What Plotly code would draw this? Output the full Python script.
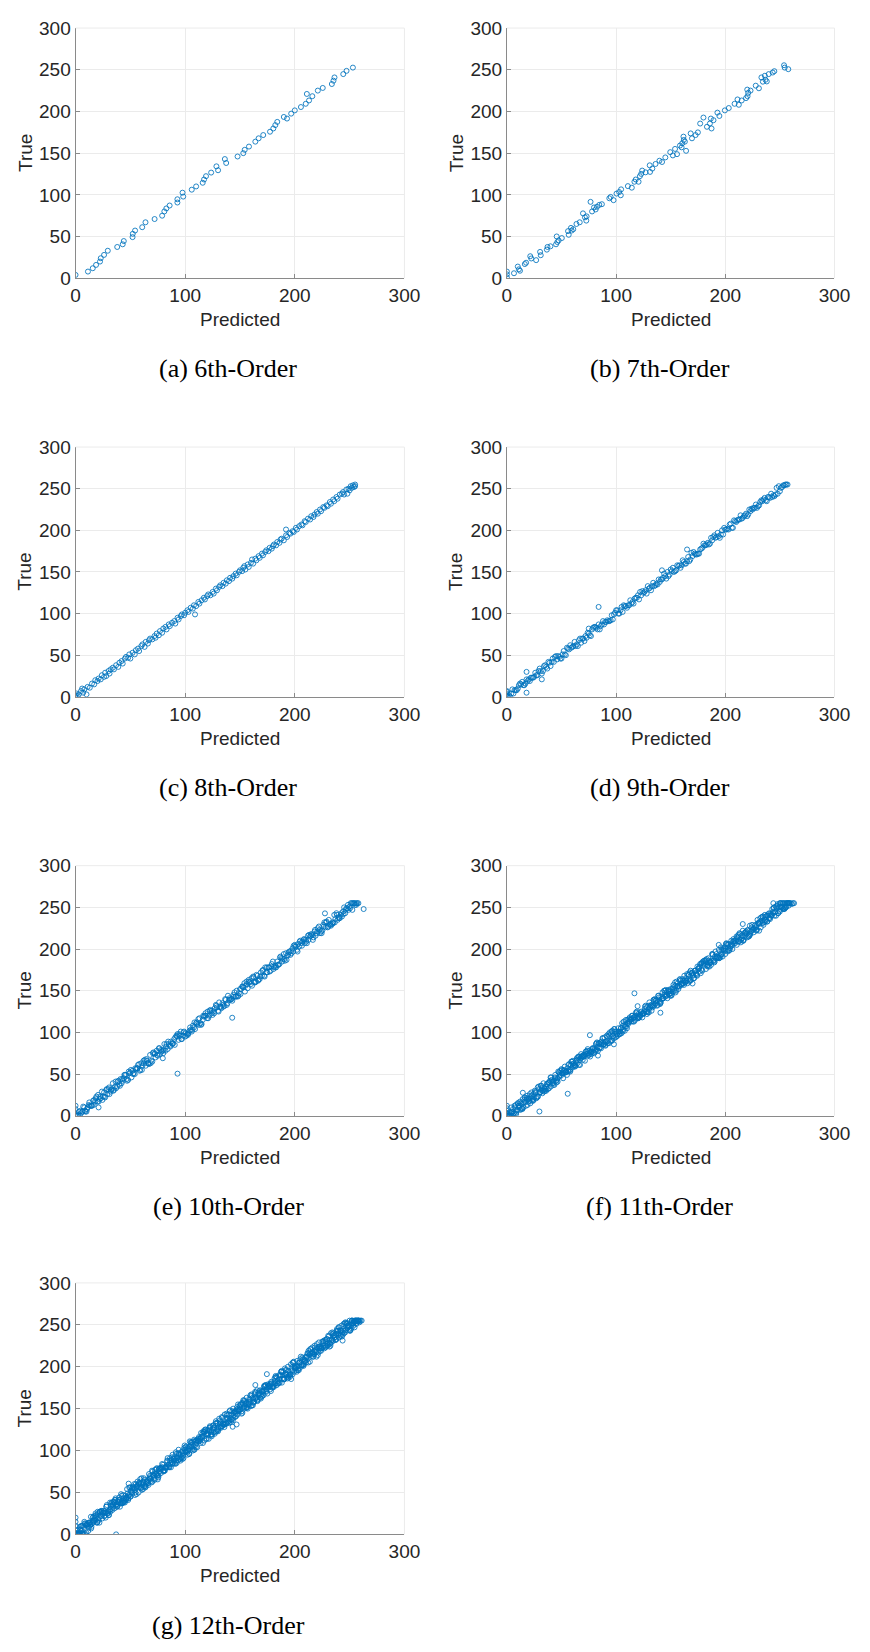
import plotly.graph_objects as go

# (predicted, true) pixel-intensity pairs for each model order
order6 = [(0,4),(11.3,8),(15.7,12),(18.7,16),(22.3,20),(23,24),(26,28),(29.4,33),(38,37.5),(43,40.7),
          (44,44.6),(52,49.3),(52.2,53.3),(54.3,57.2),(60.8,61.2),(63.8,67.1),(72.1,71),(79,75),(81,80.1),
          (82.8,83.7),(85.8,87.2),(92.9,90.8),(92.9,94.7),(98.2,97.9),(97.6,102.6),(106,106.2),(110,110.1),
          (116,114.5),(117.2,118.4),(119,122.4),(123.7,126.7),(130,129.5),(128.5,134.2),(137.4,138.2),
          (136.2,142.9),(147.8,146),(153,150),(154.3,154),(158.2,157.9),(164,163.8),(167,167.8),(171.2,171.7),
          (177.4,175.7),(180.4,179.6),(182.2,183.6),(184,187.5),(190,193.4),(192.9,191.5),(196.7,197.4),
          (200,201.3),(205.6,205.3),(210,209.2),(211,221),(213,213.2),(216,218.3),(221,225),(225.5,228.2),
          (233.8,232.9),(235.3,236.9),(236.2,240.8),(244.2,244.8),(247.2,248.7),(253,252.6)]

order7 = [(0,8),(0,4.7),(0,1),(6.5,6),(10,14),(11,10.7),(12,9),(16.4,17),(17.6,18.6),(21.4,26.4),(22.3,23.7),
          (26.8,21.7),(30.4,31.6),(31,27.6),(36.6,34.3),(37.2,37.5),(39.9,38.3),(45,40.7),(45.6,50.1),(46.2,43.4),
          (47.4,45.4),(50.3,48.2),(56,56.5),(56.6,52.1),(58.7,60.4),(59.3,57.2),(60.8,58.8),(63.7,65.1),
          (66.7,67.1),(69.7,77.8),(71.5,73),(72.7,69.1),(73,74.2),(76.6,91.6),(78,80.1),(79.8,84.9),(81.3,82.5),
          (82.5,85.7),(84.6,88),(87,88.8),(93.8,95.9),(95,97.5),(97.7,93.6),(100.4,101.5),(102.8,103.4),
          (104.6,106.6),(104.3,99.5),(110.8,110.5),(114.4,108.6),(116.8,115.7),(118,118.4),(120.6,115.7),
          (121.8,122.4),(123,125.1),(123.9,129.1),(127,127),(130.8,135.4),(131.1,127.5),(133.2,131.5),(136.1,137),
          (139.7,140.9),(142.1,139.4),(145.1,144.9),(149.6,151.2),(152,147.3),(154,155.1),(155.8,148.8),
          (158.5,159.1),(160,157),(160.6,161.9),(161.7,169.8),(162,165.8),(163,163.8),(164.1,152.8),(168.3,173.7),
          (169.5,167.8),(172.8,171.7),(174.9,174.9),(177,185.5),(180,192.7),(183.2,181.6),(185.9,185.5),
          (186.8,191.5),(187.4,179.6),(189.2,189.5),(192.8,198.6),(194.6,194.6),(199.6,201.3),(203.2,204.1),
          (208.5,209.2),(211.2,214.4),(212.4,208),(215,213.2),(219,216),(220.1,226.2),(220.4,218.3),(221,222.3),
          (223.1,225),(227.9,230.9),(230.8,227.8),(233.1,240.8),(234.4,235.7),(236.2,242.8),(236.8,238),
          (238,236),(239.8,244.8),(243.4,246.7),(244.9,248.3),(253.8,255.4),(254.4,252.6),(257.7,250.7)]

order8 = [(0,0),(0,2),(1,4),(2,1),(3,3),(5,7),(6,10),(7,5),(8,9),(10,3),(11,12),(13,11),(15,16),(17,15),(18,20),
          (20,19),(21,22),(23,21),(24,26),(26,24),(27,29),(28,25),(30,31),(31,28),(32,33),(34,35),(35,33),(37,38),
          (39,36),(40,41),(42,43),(43,40),(45,46),(46,48),(48,47),(49,51),(50,46),(52,53),(54,51),(55,56),(57,58),
          (58,55),(60,61),(61,63),(63,60),(64,66),(66,64),(67,68),(68,70),(70,69),(72,73),(73,71),(74,76),(76,74),
          (77,79),(79,77),(80,82),(82,84),(83,81),(85,87),(86,85),(88,89),(90,91),(91,88),(93,95),(94,93),(96,97),
          (97,99),(99,98),(100,101),(102,104),(103,102),(105,107),(107,106),(108,110),(109,99),(110,109),(112,114),
          (113,112),(115,116),(117,119),(118,117),(120,121),(121,123),(123,122),(125,126),(126,124),(128,130),
          (129,128),(131,132),(132,134),(134,133),(135,137),(137,136),(138,140),(140,139),(141,143),(143,142),
          (144,145),(146,148),(147,146),(149,150),(150,152),(152,151),(153,155),(154,157),(155,153),(157,159),
          (158,156),(160,161),(161,165),(162,160),(164,166),(165,164),(167,169),(168,167),(170,172),(171,170),
          (173,174),(174,176),(176,175),(177,179),(179,178),(180,181),(181,183),(183,182),(184,186),(186,185),
          (187,189),(188,190),(190,188),(192,201),(192,194),(193,192),(195,197),(196,196),(198,199),(199,198),
          (201,203),(202,201),(204,205),(206,207),(207,206),(209,211),(210,210),(212,214),(214,213),(215,217),
          (217,216),(218,219),(220,222),(221,220),(223,225),(224,223),(226,228),(227,227),(229,230),(230,229),
          (232,234),(233,232),(235,237),(236,235),(238,240),(239,238),(241,243),(243,244),(244,246),(245,243),
          (247,249),(248,244),(249,250),(250,248),(251,253),(252,251),(253,254),(254,252),(255,255),(255,253)]

order9 = [(0,0),(1,0),(2,2),(3,0),(4,4),(5,9),(6,4),(7,8),(8,8),(9,8),(10,10),(11,14),(12,16),(13,15),(14,18),
          (15,14),(16,14),(17,16),(18,21),(19,19),(20,21),(21,19),(22,23),(23,23),(24,23),(25,24),(26,29),(27,26),
          (28,26),(29,31),(30,34),(31,31),(32,28),(33,31),(34,37),(35,38),(36,36),(37,34),(38,42),(39,41),(40,37),
          (41,42),(42,46),(43,42),(44,48),(45,49),(46,45),(47,49),(48,48),(49,46),(50,46),(51,51),(52,55),(53,51),
          (54,50),(55,59),(56,58),(57,57),(58,62),(59,59),(60,60),(61,61),(62,66),(63,61),(64,63),(65,61),(66,68),
          (67,70),(68,65),(69,70),(70,70),(71,67),(72,73),(73,71),(74,77),(75,76),(76,74),(77,73),(78,81),(79,83),
          (80,84),(81,84),(82,83),(83,81),(84,87),(85,81),(86,85),(87,87),(88,91),(89,87),(90,90),(91,90),(92,92),
          (93,91),(94,91),(95,92),(96,98),(97,93),(98,99),(99,101),(100,104),(101,104),(102,100),(103,100),
          (104,104),(105,108),(106,102),(107,110),(108,109),(109,109),(110,107),(111,110),(112,110),(113,116),
          (114,112),(115,114),(116,112),(117,118),(118,119),(119,119),(120,122),(121,117),(122,126),(123,122),
          (124,127),(125,125),(126,126),(127,128),(128,124),(129,133),(130,130),(131,131),(132,128),(133,133),
          (134,137),(135,133),(136,134),(137,136),(138,135),(139,141),(140,138),(141,141),(142,141),(143,143),
          (144,148),(145,145),(146,142),(147,150),(148,145),(149,147),(150,153),(151,151),(152,155),(153,150),
          (154,151),(155,152),(156,158),(157,157),(158,158),(159,155),(160,158),(161,164),(162,162),(163,160),
          (164,160),(165,163),(166,168),(167,163),(168,165),(169,173),(170,169),(171,174),(172,172),(173,171),
          (174,171),(175,172),(176,172),(177,177),(178,178),(179,179),(180,184),(181,182),(182,182),(183,183),
          (184,185),(185,183),(186,184),(187,191),(188,188),(189,192),(190,194),(191,191),(192,192),(193,197),
          (194,193),(195,191),(196,195),(197,200),(198,195),(199,203),(200,201),(201,201),(202,202),(203,201),
          (204,207),(205,208),(206,203),(207,203),(208,212),(209,211),(210,210),(211,212),(212,213),(213,213),
          (214,218),(215,214),(216,215),(217,217),(218,218),(219,220),(220,217),(221,219),(222,225),(223,223),
          (224,226),(225,225),(226,227),(227,227),(228,231),(229,227),(230,229),(231,230),(232,234),(233,236),
          (234,235),(235,237),(236,239),(237,236),(238,235),(239,240),(240,240),(241,239),(242,244),(243,240),
          (244,242),(245,241),(246,243),(247,251),(248,244),(249,253),(250,247),(251,251),(252,252),(253,254),
          (254,254),(255,255),(256,255),(257,255),
          (0,2),(0,4),(0,6),(0,7),(18,30),(18,5),(32,21),(75,82),(84,108),(142,152),(165,177)]

order10 = [(0,0),(1,0),(2,1),(3,5),(4,0),(5,3),(6,5),(7,11),(8,10),(9,5),(10,5),(11,10),(12,13),(13,12),(14,12),
           (15,12),(16,18),(17,19),(18,17),(19,23),(20,17),(21,17),(22,20),(23,21),(24,29),(25,23),(26,28),(27,22),
           (28,31),(29,26),(30,32),(31,26),(32,29),(33,32),(34,39),(35,31),(36,35),(37,33),(38,35),(39,42),(40,38),
           (41,44),(42,39),(43,42),(44,45),(45,49),(46,49),(47,42),(48,43),(49,51),(50,52),(51,46),(52,54),(53,51),
           (54,50),(55,56),(56,57),(57,61),(58,62),(59,55),(60,63),(61,60),(62,66),(63,67),(64,60),(65,66),(66,63),
           (67,62),(68,73),(69,66),(70,65),(71,76),(72,74),(73,70),(74,78),(75,72),(76,81),(77,74),(78,79),(79,78),
           (80,75),(81,86),(82,78),(83,86),(84,80),(85,86),(86,84),(87,89),(88,87),(89,87),(90,92),(91,94),(92,96),
           (93,98),(94,91),(95,96),(96,101),(97,92),(98,96),(99,101),(100,95),(101,96),(102,98),(103,99),(104,102),
           (105,103),(106,101),(107,108),(108,106),(109,104),(110,111),(111,110),(112,116),(113,117),(114,111),
           (115,110),(116,115),(117,119),(118,120),(119,120),(120,117),(121,117),(122,120),(123,127),(124,123),
           (125,121),(126,125),(127,129),(128,133),(129,130),(130,126),(131,136),(132,131),(133,129),(134,135),
           (135,131),(136,132),(137,139),(138,133),(139,144),(140,139),(141,139),(142,140),(143,138),(144,145),
           (145,148),(146,143),(147,150),(148,143),(149,147),(150,152),(151,152),(152,155),(153,154),(154,159),
           (155,156),(156,161),(157,153),(158,163),(159,160),(160,158),(161,156),(162,167),(163,160),(164,160),
           (165,169),(166,168),(167,163),(168,164),(169,172),(170,168),(171,175),(172,168),(173,178),(174,172),
           (175,172),(176,178),(177,173),(178,174),(179,182),(180,185),(181,179),(182,178),(183,178),(184,185),
           (185,181),(186,182),(187,191),(188,189),(189,188),(190,194),(191,186),(192,195),(193,192),(194,193),
           (195,197),(196,193),(197,195),(198,201),(199,204),(200,205),(201,203),(202,199),(203,206),(204,203),
           (205,210),(206,207),(207,209),(208,211),(209,207),(210,211),(211,207),(212,216),(213,217),(214,215),
           (215,218),(216,217),(217,214),(218,221),(219,216),(220,219),(221,225),(222,227),(223,219),(224,221),
           (225,222),(226,229),(227,232),(228,226),(229,233),(230,226),(231,235),(232,230),(233,228),(234,230),
           (235,231),(236,241),(237,236),(238,243),(239,235),(240,238),(241,237),(242,241),(243,239),(244,245),
           (245,250),(246,243),(247,249),(248,249),(249,247),(250,251),(251,255),(252,255),(253,255),(254,255),
           (255,253),(256,253),(257,255),
           (0.5,2),(2.5,0),(4.5,6),(6.5,5),(8.5,6),(10.5,8),(12.5,16),(14.5,12),(16.5,13),(18.5,21),(20.5,25),
           (22.5,23),(24.5,19),(26.5,23),(28.5,32),(30.5,34),(32.5,31),(34.5,30),(36.5,41),(38.5,41),(40.5,36),
           (42.5,44),(44.5,49),(46.5,44),(48.5,53),(50.5,55),(52.5,50),(54.5,57),(56.5,57),(58.5,54),(60.5,55),
           (62.5,63),(64.5,68),(66.5,63),(68.5,63),(70.5,75),(72.5,75),(74.5,73),(76.5,81),(78.5,77),(80.5,79),
           (82.5,83),(84.5,89),(86.5,83),(88.5,86),(90.5,85),(92.5,95),(94.5,98),(96.5,92),(98.5,100),(100.5,99),
           (102.5,97),(104.5,106),(106.5,103),(108.5,112),(110.5,112),(112.5,109),(114.5,109),(116.5,120),
           (118.5,123),(120.5,125),(122.5,126),(124.5,126),(126.5,123),(128.5,132),(130.5,125),(132.5,130),
           (134.5,133),(136.5,140),(138.5,135),(140.5,141),(142.5,140),(144.5,143),(146.5,143),(148.5,144),
           (150.5,146),(152.5,155),(154.5,149),(156.5,158),(158.5,161),(160.5,165),(162.5,166),(164.5,161),
           (166.5,162),(168.5,167),(170.5,174),(172.5,167),(174.5,178),(176.5,178),(178.5,179),(180.5,176),
           (182.5,180),(184.5,181),(186.5,190),(188.5,185),(190.5,188),(192.5,187),(194.5,196),(196.5,198),
           (198.5,197),(200.5,203),(202.5,197),(204.5,209),(206.5,204),(208.5,212),(210.5,209),(212.5,211),
           (214.5,216),(216.5,211),(218.5,223),(220.5,221),(222.5,223),(224.5,219),(226.5,227),(228.5,232),
           (230.5,227),(232.5,229),(234.5,232),(236.5,232),(238.5,241),(240.5,237),(242.5,243),(244.5,242),
           (246.5,247),(248.5,253),(250.5,249),(252.5,247),(254.5,255),
           (0,12),(0,8),(21,10),(79.6,69),(93,50.5),(142.9,117.6),(227.5,242.8),(262.8,248),(258,255),(256,255)]

order11 = [(0,0),(1,2),(2,0),(3,4),(4,10),(5,4),(6,0),(7,12),(8,3),(9,6),(10,15),(11,10),(12,17),(13,8),(14,9),
           (15,10),(16,19),(17,16),(18,19),(19,13),(20,17),(21,26),(22,21),(23,18),(24,18),(25,22),(26,29),(27,21),
           (28,23),(29,35),(30,28),(31,36),(32,33),(33,30),(34,29),(35,30),(36,30),(37,38),(38,39),(39,40),(40,46),
           (41,43),(42,41),(43,42),(44,46),(45,42),(46,43),(47,53),(48,47),(49,54),(50,56),(51,52),(52,51),(53,59),
           (54,52),(55,49),(56,54),(57,62),(58,53),(59,65),(60,62),(61,60),(62,61),(63,60),(64,69),(65,70),(66,61),
           (67,61),(68,74),(69,72),(70,71),(71,73),(72,74),(73,74),(74,80),(75,73),(76,74),(77,76),(78,77),(79,81),
           (80,75),(81,78),(82,87),(83,82),(84,87),(85,86),(86,88),(87,86),(88,93),(89,86),(90,88),(91,89),(92,95),
           (93,98),(94,96),(95,98),(96,101),(97,95),(98,93),(99,101),(100,101),(101,98),(102,105),(103,98),
           (104,101),(105,99),(106,101),(107,113),(108,102),(109,115),(110,105),(111,110),(112,113),(113,115),
           (114,113),(115,120),(116,117),(117,119),(118,120),(119,125),(120,117),(121,119),(122,121),(123,125),
           (124,118),(125,123),(126,125),(127,132),(128,130),(129,124),(130,124),(131,130),(132,133),(133,132),
           (134,132),(135,132),(136,138),(137,139),(138,137),(139,144),(140,137),(141,136),(142,140),(143,141),
           (144,150),(145,143),(146,148),(147,141),(148,151),(149,146),(150,152),(151,145),(152,149),(153,152),
           (154,160),(155,150),(156,155),(157,152),(158,155),(159,162),(160,158),(161,164),(162,159),(163,162),
           (164,165),(165,170),(166,169),(167,161),(168,162),(169,171),(170,172),(171,165),(172,174),(173,171),
           (174,169),(175,176),(176,177),(177,182),(178,183),(179,174),(180,183),(181,180),(182,187),(183,188),
           (184,179),(185,186),(186,183),(187,181),(188,194),(189,186),(190,184),(191,197),(192,194),(193,190),
           (194,199),(195,192),(196,202),(197,194),(198,199),(199,198),(200,194),(201,207),(202,197),(203,206),
           (204,199),(205,206),(206,204),(207,209),(208,207),(209,207),(210,212),(211,214),(212,217),(213,219),
           (214,211),(215,216),(216,222),(217,211),(218,216),(219,221),(220,214),(221,215),(222,217),(223,218),
           (224,222),(225,223),(226,220),(227,228),(228,226),(229,223),(230,231),(231,230),(232,237),(233,238),
           (234,231),(235,229),(236,235),(237,239),(238,240),(239,240),(240,237),(241,236),(242,240),(243,248),
           (244,243),(245,240),(246,245),(247,249),(248,254),(249,250),(250,245),(251,255),(252,251),(253,248),
           (254,255),(255,250),(256,251),(257,255),(258,252),(259,255),
           (0.5,0),(1.5,0),(2.5,0),(3.5,0),(4.5,5),(5.5,8),(6.5,3),(7.5,10),(8.5,2),(9.5,7),(10.5,12),(11.5,12),
           (12.5,15),(13.5,14),(14.5,20),(15.5,16),(16.5,22),(17.5,12),(18.5,24),(19.5,20),(20.5,18),(21.5,15),
           (22.5,28),(23.5,20),(24.5,19),(25.5,30),(26.5,28),(27.5,22),(28.5,23),(29.5,32),(30.5,28),(31.5,36),
           (32.5,27),(33.5,39),(34.5,32),(35.5,32),(36.5,38),(37.5,32),(38.5,33),(39.5,42),(40.5,46),(41.5,39),
           (42.5,37),(43.5,37),(44.5,45),(45.5,40),(46.5,41),(47.5,52),(48.5,49),(49.5,48),(50.5,55),(51.5,45),
           (52.5,55),(53.5,52),(54.5,53),(55.5,57),(56.5,53),(57.5,55),(58.5,61),(59.5,65),(60.5,66),(61.5,63),
           (62.5,59),(63.5,66),(64.5,63),(65.5,71),(66.5,67),(67.5,69),(68.5,71),(69.5,67),(70.5,71),(71.5,66),
           (72.5,77),(73.5,78),(74.5,75),(75.5,78),(76.5,77),(77.5,74),(78.5,81),(79.5,76),(80.5,79),(81.5,86),
           (82.5,88),(83.5,78),(84.5,81),(85.5,82),(86.5,89),(87.5,93),(88.5,86),(89.5,94),(90.5,85),(91.5,96),
           (92.5,90),(93.5,87),(94.5,89),(95.5,90),(96.5,102),(97.5,96),(98.5,104),(99.5,94),(100.5,98),
           (101.5,96),(102.5,101),(103.5,98),(104.5,105),(105.5,111),(106.5,103),(107.5,109),(108.5,109),
           (109.5,107),(110.5,111),(111.5,116),(112.5,118),(113.5,116),(114.5,120),(115.5,113),(116.5,113),
           (117.5,115),(118.5,123),(119.5,118),(120.5,122),(121.5,118),(122.5,124),(123.5,122),(124.5,122),
           (125.5,123),(126.5,131),(127.5,125),(128.5,125),(129.5,132),(130.5,136),(131.5,132),(132.5,126),
           (133.5,130),(134.5,139),(135.5,140),(136.5,135),(137.5,132),(138.5,144),(139.5,142),(140.5,135),
           (141.5,143),(142.5,148),(143.5,141),(144.5,150),(145.5,151),(146.5,144),(147.5,150),(148.5,149),
           (149.5,144),(150.5,144),(151.5,152),(152.5,157),(153.5,150),(154.5,148),(155.5,161),(156.5,159),
           (157.5,156),(158.5,164),(159.5,158),(160.5,159),(161.5,162),(162.5,168),(163.5,160),(164.5,162),
           (165.5,159),(166.5,169),(167.5,172),(168.5,163),(169.5,171),(170.5,169),(171.5,165),(172.5,174),
           (173.5,170),(174.5,179),(175.5,177),(176.5,173),(177.5,171),(178.5,183),(179.5,185),(180.5,186),
           (181.5,186),(182.5,184),(183.5,180),(184.5,189),(185.5,179),(186.5,184),(187.5,186),(188.5,193),
           (189.5,186),(190.5,191),(191.5,189),(192.5,191),(193.5,190),(194.5,189),(195.5,190),(196.5,199),
           (197.5,191),(198.5,200),(199.5,202),(200.5,206),(201.5,206),(202.5,199),(203.5,198),(204.5,203),
           (205.5,210),(206.5,200),(207.5,212),(208.5,210),(209.5,210),(210.5,205),(211.5,209),(212.5,209),
           (213.5,218),(214.5,211),(215.5,213),(216.5,210),(217.5,219),(218.5,220),(219.5,218),(220.5,223),
           (221.5,215),(222.5,228),(223.5,221),(224.5,229),(225.5,224),(226.5,225),(227.5,229),(228.5,222),
           (229.5,235),(230.5,231),(231.5,232),(232.5,226),(233.5,234),(234.5,239),(235.5,232),(236.5,233),
           (237.5,235),(238.5,233),(239.5,242),(240.5,237),(241.5,242),(242.5,240),(243.5,244),(244.5,250),
           (245.5,244),(246.5,240),(247.5,252),(248.5,243),(249.5,246),(250.5,255),(251.5,250),(252.5,255),
           (253.5,248),(254.5,249),(255.5,250),(256.5,255),(257.5,255),(258.5,255),
           (0.25,2),(2.25,1),(4.25,3),(6.25,3),(8.25,13),(10.25,15),(12.25,7),(14.25,8),(16.25,22),(18.25,21),
           (20.25,21),(22.25,24),(24.25,26),(26.25,27),(28.25,34),(30.25,28),(32.25,30),(34.25,33),(36.25,35),
           (38.25,40),(40.25,35),(42.25,39),(44.25,49),(46.25,45),(48.25,51),(50.25,51),(52.25,54),(54.25,53),
           (56.25,61),(58.25,55),(60.25,58),(62.25,60),(64.25,67),(66.25,71),(68.25,70),(70.25,73),(72.25,77),
           (74.25,72),(76.25,71),(78.25,80),(80.25,81),(82.25,79),(84.25,87),(86.25,81),(88.25,85),(90.25,84),
           (92.25,87),(94.25,100),(96.25,90),(98.25,104),(100.25,95),(102.25,101),(104.25,105),(106.25,108),
           (108.25,107),(110.25,115),(112.25,113),(114.25,116),(116.25,118),(118.25,124),(120.25,117),
           (122.25,120),(124.25,123),(126.25,128),(128.25,122),(130.25,128),(132.25,131),(134.25,139),
           (136.25,138),(138.25,133),(140.25,134),(142.25,141),(144.25,145),(146.25,145),(148.25,146),
           (150.25,147),(152.25,154),(154.25,156),(156.25,155),(158.25,163),(160.25,157),(162.25,157),
           (164.25,162),(166.25,164),(168.25,174),(170.25,168),(172.25,174),(174.25,168),(176.25,179),
           (178.25,175),(180.25,182),(182.25,176),(184.25,181),(186.25,185),(188.25,194),(190.25,185),
           (192.25,191),(194.25,189),(196.25,193),(198.25,201),(200.25,198),(202.25,205),(204.25,201),
           (206.25,205),(208.25,209),(210.25,215),(212.25,215),(214.25,208),(216.25,210),(218.25,220),
           (220.25,222),(222.25,216),(224.25,226),(226.25,224),(228.25,223),(230.25,231),(232.25,233),
           (234.25,239),(236.25,241),(238.25,233),(240.25,243),(242.25,241),(244.25,249),(246.25,251),
           (248.25,243),(250.25,251),(252.25,249),(254.25,248),(256.25,255),(258.25,255),
           (0,3),(0,6),(0,9),(0,12),(116.8,146.9),(140.6,123.6),(76,96.7),(83.4,72.2),(55.7,26.4),(29.8,5.1),
           (14.6,27.6),(98,85.7),(119.7,131.5),(170,158.7),(244,255),(194,205),(216,230),(231,222),
           (250,255),(253,255),(255,255),(260,255),(261,254),(262,255),(263,255)]

order12 = [(0,2),(1,0),(2,1),(3,0),(4,9),(5,10),(6,1),(7,0),(8,15),(9,13),(10,11),(11,13),(12,14),(13,14),(14,21),
           (15,13),(16,14),(17,16),(18,17),(19,21),(20,15),(21,17),(22,27),(23,22),(24,28),(25,26),(26,28),(27,26),
           (28,33),(29,25),(30,28),(31,29),(32,36),(33,38),(34,36),(35,39),(36,41),(37,35),(38,33),(39,41),(40,41),
           (41,37),(42,46),(43,38),(44,40),(45,38),(46,41),(47,54),(48,41),(49,56),(50,45),(51,50),(52,53),(53,55),
           (54,53),(55,60),(56,57),(57,59),(58,60),(59,66),(60,56),(61,59),(62,61),(63,65),(64,57),(65,63),(66,65),
           (67,72),(68,70),(69,64),(70,63),(71,70),(72,73),(73,72),(74,72),(75,71),(76,78),(77,79),(78,77),(79,84),
           (80,76),(81,76),(82,80),(83,81),(84,91),(85,83),(86,88),(87,80),(88,92),(89,85),(90,92),(91,84),(92,88),
           (93,92),(94,101),(95,90),(96,95),(97,92),(98,94),(99,103),(100,98),(101,105),(102,98),(103,102),
           (104,105),(105,110),(106,110),(107,100),(108,101),(109,111),(110,112),(111,104),(112,114),(113,111),
           (114,109),(115,116),(116,117),(117,122),(118,123),(119,114),(120,124),(121,120),(122,127),(123,128),
           (124,119),(125,126),(126,122),(127,120),(128,135),(129,125),(130,123),(131,138),(132,134),(133,129),
           (134,139),(135,131),(136,143),(137,133),(138,139),(139,138),(140,133),(141,148),(142,137),(143,147),
           (144,139),(145,146),(146,144),(147,149),(148,147),(149,147),(150,152),(151,155),(152,157),(153,160),
           (154,150),(155,156),(156,163),(157,150),(158,156),(159,161),(160,153),(161,154),(162,157),(163,158),
           (164,162),(165,163),(166,159),(167,168),(168,166),(169,162),(170,171),(171,170),(172,177),(173,178),
           (174,170),(175,168),(176,175),(177,179),(178,180),(179,180),(180,176),(181,176),(182,180),(183,188),
           (184,183),(185,180),(186,185),(187,189),(188,195),(189,190),(190,185),(191,198),(192,191),(193,188),
           (194,195),(195,190),(196,191),(197,199),(198,191),(199,206),(200,199),(201,199),(202,200),(203,196),
           (204,205),(205,209),(206,202),(207,211),(208,201),(209,207),(210,212),(211,212),(212,216),(213,214),
           (214,221),(215,216),(216,223),(217,212),(218,225),(219,220),(220,218),(221,214),(222,229),(223,219),
           (224,219),(225,230),(226,228),(227,222),(228,223),(229,233),(230,228),(231,236),(232,227),(233,240),
           (234,232),(235,231),(236,238),(237,232),(238,233),(239,243),(240,247),(241,239),(242,237),(243,236),
           (244,245),(245,240),(246,241),(247,252),(248,249),(249,248),(250,255),(251,244),(252,255),(253,252),
           (254,253),(255,255),(256,252),(257,255),(258,255),(259,255),
           (0.5,0),(1.5,5),(2.5,0),(3.5,2),(4.5,5),(5.5,10),(6.5,10),(7.5,0),(8.5,1),(9.5,11),(10.5,12),(11.5,4),
           (12.5,14),(13.5,11),(14.5,9),(15.5,16),(16.5,17),(17.5,22),(18.5,23),(19.5,14),(20.5,24),(21.5,20),
           (22.5,27),(23.5,28),(24.5,19),(25.5,26),(26.5,22),(27.5,20),(28.5,35),(29.5,25),(30.5,23),(31.5,38),
           (32.5,34),(33.5,29),(34.5,39),(35.5,31),(36.5,43),(37.5,33),(38.5,39),(39.5,38),(40.5,33),(41.5,48),
           (42.5,37),(43.5,47),(44.5,39),(45.5,46),(46.5,44),(47.5,49),(48.5,47),(49.5,47),(50.5,52),(51.5,55),
           (52.5,57),(53.5,60),(54.5,50),(55.5,56),(56.5,63),(57.5,50),(58.5,56),(59.5,61),(60.5,53),(61.5,54),
           (62.5,57),(63.5,58),(64.5,62),(65.5,63),(66.5,59),(67.5,68),(68.5,66),(69.5,62),(70.5,71),(71.5,70),
           (72.5,77),(73.5,78),(74.5,70),(75.5,68),(76.5,75),(77.5,79),(78.5,80),(79.5,80),(80.5,76),(81.5,76),
           (82.5,80),(83.5,88),(84.5,83),(85.5,80),(86.5,85),(87.5,89),(88.5,95),(89.5,90),(90.5,85),(91.5,98),
           (92.5,91),(93.5,88),(94.5,95),(95.5,90),(96.5,91),(97.5,99),(98.5,91),(99.5,106),(100.5,99),(101.5,99),
           (102.5,100),(103.5,96),(104.5,105),(105.5,109),(106.5,102),(107.5,111),(108.5,101),(109.5,107),
           (110.5,112),(111.5,112),(112.5,116),(113.5,114),(114.5,121),(115.5,116),(116.5,123),(117.5,112),
           (118.5,125),(119.5,120),(120.5,118),(121.5,114),(122.5,129),(123.5,119),(124.5,119),(125.5,130),
           (126.5,128),(127.5,122),(128.5,123),(129.5,133),(130.5,128),(131.5,136),(132.5,127),(133.5,140),
           (134.5,132),(135.5,131),(136.5,138),(137.5,132),(138.5,133),(139.5,143),(140.5,147),(141.5,139),
           (142.5,137),(143.5,136),(144.5,145),(145.5,140),(146.5,141),(147.5,152),(148.5,149),(149.5,148),
           (150.5,155),(151.5,144),(152.5,156),(153.5,152),(154.5,153),(155.5,157),(156.5,152),(157.5,155),
           (158.5,162),(159.5,166),(160.5,167),(161.5,163),(162.5,158),(163.5,167),(164.5,163),(165.5,172),
           (166.5,167),(167.5,169),(168.5,172),(169.5,167),(170.5,171),(171.5,166),(172.5,177),(173.5,178),
           (174.5,175),(175.5,179),(176.5,177),(177.5,173),(178.5,182),(179.5,175),(180.5,179),(181.5,186),
           (182.5,189),(183.5,178),(184.5,180),(185.5,181),(186.5,190),(187.5,194),(188.5,186),(189.5,194),
           (190.5,185),(191.5,196),(192.5,190),(193.5,186),(194.5,189),(195.5,190),(196.5,203),(197.5,196),
           (198.5,205),(199.5,194),(200.5,198),(201.5,196),(202.5,201),(203.5,198),(204.5,205),(205.5,212),
           (206.5,202),(207.5,209),(208.5,209),(209.5,207),(210.5,211),(211.5,216),(212.5,219),(213.5,217),
           (214.5,221),(215.5,213),(216.5,212),(217.5,215),(218.5,223),(219.5,218),(220.5,222),(221.5,217),
           (222.5,224),(223.5,222),(224.5,222),(225.5,223),(226.5,231),(227.5,225),(228.5,224),(229.5,233),
           (230.5,237),(231.5,232),(232.5,225),(233.5,229),(234.5,239),(235.5,240),(236.5,235),(237.5,232),
           (238.5,245),(239.5,243),(240.5,235),(241.5,243),(242.5,249),(243.5,241),(244.5,251),(245.5,252),
           (246.5,244),(247.5,251),(248.5,249),(249.5,244),(250.5,243),(251.5,252),(252.5,255),(253.5,249),
           (254.5,247),(255.5,255),(256.5,255),(257.5,255),
           (0.2,0),(2.2,0),(4.2,6),(6.2,2),(8.2,13),(10.2,12),(12.2,8),(14.2,7),(16.2,21),(18.2,25),(20.2,27),
           (22.2,27),(24.2,26),(26.2,22),(28.2,33),(30.2,23),(32.2,30),(34.2,33),(36.2,41),(38.2,34),(40.2,41),
           (42.2,40),(44.2,43),(46.2,42),(48.2,43),(50.2,45),(52.2,56),(54.2,47),(56.2,58),(58.2,62),(60.2,67),
           (62.2,67),(64.2,60),(66.2,61),(68.2,67),(70.2,75),(72.2,65),(74.2,79),(76.2,78),(78.2,79),(80.2,75),
           (82.2,80),(84.2,80),(86.2,91),(88.2,84),(90.2,88),(92.2,85),(94.2,96),(96.2,98),(98.2,97),(100.2,104),
           (102.2,95),(104.2,111),(106.2,104),(108.2,113),(110.2,109),(112.2,111),(114.2,116),(116.2,109),
           (118.2,125),(120.2,121),(122.2,123),(124.2,117),(126.2,127),(128.2,133),(130.2,126),(132.2,128),
           (134.2,132),(136.2,131),(138.2,142),(140.2,136),(142.2,143),(144.2,142),(146.2,147),(148.2,155),
           (150.2,149),(152.2,145),(154.2,159),(156.2,151),(158.2,154),(160.2,165),(162.2,161),(164.2,169),
           (166.2,161),(168.2,163),(170.2,165),(172.2,176),(174.2,173),(176.2,177),(178.2,171),(180.2,176),
           (182.2,187),(184.2,183),(186.2,181),(188.2,181),(190.2,186),(192.2,196),(194.2,187),(196.2,191),
           (198.2,205),(200.2,198),(202.2,207),(204.2,205),(206.2,202),(208.2,203),(210.2,205),(212.2,205),
           (214.2,215),(216.2,217),(218.2,219),(220.2,227),(222.2,224),(224.2,223),(226.2,225),(228.2,230),
           (230.2,226),(232.2,228),(234.2,241),(236.2,235),(238.2,243),(240.2,247),(242.2,243),(244.2,243),
           (246.2,253),(248.2,246),(250.2,243),(252.2,250),(254.2,255),(256.2,251),(258.2,255),
           (1.75,0),(3.75,1),(5.75,4),(7.75,9),(9.75,2),(11.75,9),(13.75,12),(15.75,20),(17.75,19),(19.75,14),
           (21.75,14),(23.75,22),(25.75,26),(27.75,26),(29.75,27),(31.75,27),(33.75,35),(35.75,37),(37.75,36),
           (39.75,44),(41.75,37),(43.75,38),(45.75,43),(47.75,45),(49.75,56),(51.75,49),(53.75,55),(55.75,48),
           (57.75,61),(59.75,55),(61.75,63),(63.75,56),(65.75,61),(67.75,66),(69.75,76),(71.75,66),(73.75,72),
           (75.75,70),(77.75,73),(79.75,83),(81.75,79),(83.75,87),(85.75,81),(87.75,86),(89.75,90),(91.75,96),
           (93.75,97),(95.75,88),(97.75,90),(99.75,101),(101.75,103),(103.75,96),(105.75,107),(107.75,105),
           (109.75,104),(111.75,112),(113.75,114),(115.75,120),(117.75,122),(119.75,114),(121.75,125),
           (123.75,122),(125.75,130),(127.75,132),(129.75,124),(131.75,132),(133.75,129),(135.75,128),
           (137.75,144),(139.75,135),(141.75,134),(143.75,150),(145.75,147),(147.75,143),(149.75,154),
           (151.75,147),(153.75,160),(155.75,151),(157.75,158),(159.75,158),(161.75,154),(163.75,170),
           (165.75,160),(167.75,171),(169.75,164),(171.75,172),(173.75,171),(175.75,177),(177.75,176),
           (179.75,177),(181.75,183),(183.75,187),(185.75,190),(187.75,194),(189.75,185),(191.75,192),
           (193.75,200),(195.75,188),(197.75,195),(199.75,201),(201.75,194),(203.75,196),(205.75,200),
           (207.75,202),(209.75,207),(211.75,209),(213.75,206),(215.75,216),(217.75,215),(219.75,212),
           (221.75,222),(223.75,222),(225.75,230),(227.75,232),(229.75,225),(231.75,224),(233.75,232),
           (235.75,237),(237.75,239),(239.75,240),(241.75,237),(243.75,238),(245.75,243),(247.75,252),
           (249.75,248),(251.75,246),(253.75,252),(255.75,255),(257.75,255),
           (37,0),(0,5),(0,10),(0,15),(0,20),(48.4,60.5),(75,65.6),(143.3,128.4),(146.9,131.1),(164,178.2),
           (174.5,191.2),(196.7,185.3),(243.6,231.2),(252,255),(254,254),(256,255),(258,254),(259,253),
           (260,255),(261,255)]

panels = [("(a) 6th-Order", order6), ("(b) 7th-Order", order7), ("(c) 8th-Order", order8),
          ("(d) 9th-Order", order9), ("(e) 10th-Order", order10), ("(f) 11th-Order", order11),
          ("(g) 12th-Order", order12)]

x_ticks = [0, 100, 200, 300]
y_ticks = [0, 50, 100, 150, 200, 250, 300]

W, H = 870, 1652
BLUE = "rgb(0,114,189)"
AXIS = "#8a8a8a"
GRID = "#ebebeb"
TEXT = "#262626"
SANS = "Liberation Sans, Arial, Helvetica, sans-serif"
SERIF = "Liberation Serif, Times New Roman, serif"

col_px = [(72.3, 409.3), (514.3, 850.0)]
row_px = [(18.3, 271.7), (442.7, 695.7), (866.7, 1120.0), (1289.3, 1544.0)]
caption_px_x = [229, 671]
caption_px_y = [363.6, 787.8, 1212.0, 1636.0]

fig = go.Figure()
annotations = []
layout_axes = {}

for i, (caption, pts) in enumerate(panels):
    r, c = divmod(i, 2)
    n = "" if i == 0 else str(i + 1)
    x0, x1 = col_px[c]
    yt, yb = row_px[r]

    fig.add_trace(go.Scatter(
        x=[p[0] for p in pts], y=[p[1] for p in pts], mode="markers",
        xaxis="x" + n, yaxis="y" + n, showlegend=False, hoverinfo="skip",
        marker=dict(symbol="circle-open", size=5, color=BLUE,
                    line=dict(width=0.85, color=BLUE)),
    ))

    common = dict(range=[0, 300], showgrid=True, gridcolor=GRID, gridwidth=1,
                  zeroline=False, showline=True, linecolor=AXIS, linewidth=1,
                  ticks="inside", ticklen=4, tickcolor=AXIS, tickwidth=1,
                  tickfont=dict(family=SANS, size=19, color=TEXT),
                  fixedrange=True)
    layout_axes["xaxis" + n] = dict(domain=[x0 / W, x1 / W], anchor="y" + n,
                                    tickvals=x_ticks, ticktext=[str(v) for v in x_ticks], **common)
    layout_axes["yaxis" + n] = dict(domain=[1 - yb / H, 1 - yt / H], anchor="x" + n,
                                    tickvals=y_ticks, ticktext=[str(v) for v in y_ticks], **common)

    # top and right frame in grid colour
    fig.add_shape(type="line", xref="paper", yref="paper", x0=x0 / W, x1=x1 / W,
                  y0=1 - yt / H, y1=1 - yt / H, line=dict(color=GRID, width=1))
    fig.add_shape(type="line", xref="paper", yref="paper", x0=x1 / W, x1=x1 / W,
                  y0=1 - yb / H, y1=1 - yt / H, line=dict(color=GRID, width=1))

    annotations.append(dict(text="Predicted", xref="paper", yref="paper",
                            x=(x0 + x1) / 2 / W, y=1 - (yb + 42) / H,
                            xanchor="center", yanchor="middle", showarrow=False,
                            font=dict(family=SANS, size=19, color=TEXT)))
    annotations.append(dict(text="True", xref="paper", yref="paper",
                            x=(x0 - 52) / W, y=1 - (yt + yb) / 2 / H, textangle=-90,
                            xanchor="center", yanchor="middle", showarrow=False,
                            font=dict(family=SANS, size=19, color=TEXT)))
    annotations.append(dict(text=caption, xref="paper", yref="paper",
                            x=caption_px_x[c] / W, y=1 - caption_px_y[r] / H,
                            xanchor="center", yanchor="middle", showarrow=False,
                            font=dict(family=SERIF, size=26, color="black")))

fig.update_layout(width=W, height=H, margin=dict(l=0, r=0, t=0, b=0),
                  paper_bgcolor="white", plot_bgcolor="white",
                  annotations=annotations, **layout_axes)

fig.write_html("out.html", config={"displayModeBar": False})
